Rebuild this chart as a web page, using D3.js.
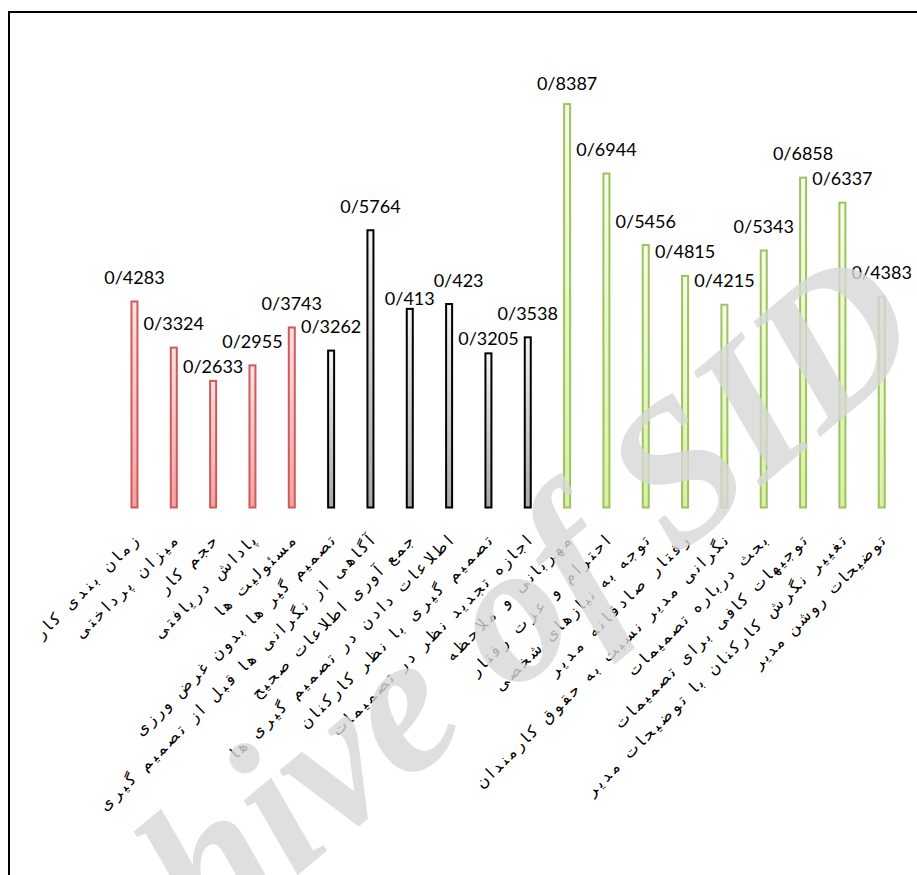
<!DOCTYPE html>
<html><head><meta charset="utf-8">
<script src="https://cdn.jsdelivr.net/npm/d3@7/dist/d3.min.js"></script>
<style>html,body{margin:0;padding:0;background:#fff;}svg{display:block;}</style>
</head><body>
<svg id="chart" width="917" height="875"></svg>
<script>
const categories = [
  "زمان بندی کار",
  "میزان پرداختی",
  "حجم کار",
  "پاداش دریافتی",
  "مسئولیت ها",
  "تصمیم گیر ها بدون غرض ورزی",
  "آگاهی از نگرانی ها قبل از تصمیم گیری",
  "جمع آوری اطلاعات صحیح",
  "اطلاعات دادن در تصمیم گیری ها",
  "تصمیم گیری با نظر کارکنان",
  "اجازه تجدید نظر در تصمیمات",
  "مهربانی و ملاحظه",
  "احترام و عزت رفتار",
  "توجه به نیازهای شخصی",
  "رفتار صادقانه مدیر",
  "نگرانی مدیر نسبت به حقوق کارمندان",
  "بحث درباره تصمیمات",
  "توجیهات کافی برای تصمیمات",
  "تغییر نگرش کارکنان با توضیحات مدیر",
  "توضیحات روشن مدیر"
];
const values = [0.4283, 0.3324, 0.2633, 0.2955, 0.3743, 0.3262, 0.5764, 0.413, 0.423, 0.3205,
                0.3538, 0.8387, 0.6944, 0.5456, 0.4815, 0.4215, 0.5343, 0.6858, 0.6337, 0.4383];
const groups = ["red","red","red","red","red","black","black","black","black","black",
                "black","green","green","green","green","green","green","green","green","green"];
// label placement tweaks (layout only), in pixels relative to default position
const labelDx = [0,0,0,0,0,0,0,0,9.5,0,0,0,0,0,0,0,0,0,0,0];
const labelDy = [0,0,10,0,0,0,0,14,0,9,0,3,0,0,0,0,0,0,0,0];

const svg = d3.select("#chart");
const defs = svg.append("defs");
const palette = {
  red:   {stroke:"#cf5a5c", top:"#fde2e2", bottom:"#f4a1a1"},
  black: {stroke:"#000000", top:"#f4f4f4", bottom:"#a8a8a8"},
  green: {stroke:"#9fc25e", top:"#f5fde9", bottom:"#d6f2a4"}
};
Object.entries(palette).forEach(([k,p])=>{
  const g = defs.append("linearGradient").attr("id","g-"+k).attr("x1",0).attr("y1",0).attr("x2",0).attr("y2",1);
  g.append("stop").attr("offset","0%").attr("stop-color",p.top);
  g.append("stop").attr("offset","100%").attr("stop-color",p.bottom);
});

// frame
svg.append("rect").attr("x",9).attr("y",12).attr("width",960).attr("height",960)
  .attr("fill","none").attr("stroke","#000").attr("stroke-width",2);

const x = d3.scaleBand().domain(d3.range(categories.length)).range([114.8, 901.4]).padding(0);
const y = d3.scaleLinear().domain([0,1]).range([507.5, 26.5]);
const bw = 6;

const data = values.map((v,i)=>({v, i, cat:categories[i], grp:groups[i]}));

svg.append("g").selectAll("rect").data(data).join("rect")
  .attr("x", d=>x(d.i)+x.bandwidth()/2-bw/2)
  .attr("y", d=>y(d.v))
  .attr("width", bw)
  .attr("height", d=>y(0)-y(d.v))
  .attr("fill", d=>"url(#g-"+d.grp+")")
  .attr("stroke", d=>palette[d.grp].stroke)
  .attr("stroke-width", 2);

// value labels
svg.append("g").selectAll("text").data(data).join("text")
  .attr("x", d=>x(d.i)+x.bandwidth()/2+labelDx[d.i])
  .attr("y", d=>y(d.v)-17.5+labelDy[d.i])
  .attr("text-anchor","middle")
  .attr("font-family","Lato, 'Open Sans', sans-serif")
  .attr("font-size",18)
  .attr("fill","#000")
  .text(d=>String(d.v).replace("0.","0/"));

// category labels (spread out like the source rendering)
const perChar = 10.6;
svg.append("g").selectAll("text").data(data).join("text")
  .attr("transform", d=>`translate(${x(d.i)+x.bandwidth()/2+5},${542}) rotate(-45)`)
  .attr("text-anchor","end")
  .attr("font-family","'DejaVu Sans', sans-serif")
  .attr("font-size",16)
  .attr("textLength", d=>d.cat.length*perChar)
  .attr("lengthAdjust","spacing")
  .attr("fill","#000")
  .text(d=>d.cat);

// watermark
svg.append("text")
  .attr("transform","translate(932,343) rotate(-40)")
  .attr("text-anchor","end")
  .attr("font-family","'Liberation Serif', serif")
  .attr("font-style","italic").attr("font-weight","bold")
  .attr("font-size",200)
  .attr("fill","#d8d8d8").attr("opacity",0.8)
  .text("Archive of SID");
</script>
</body></html>
